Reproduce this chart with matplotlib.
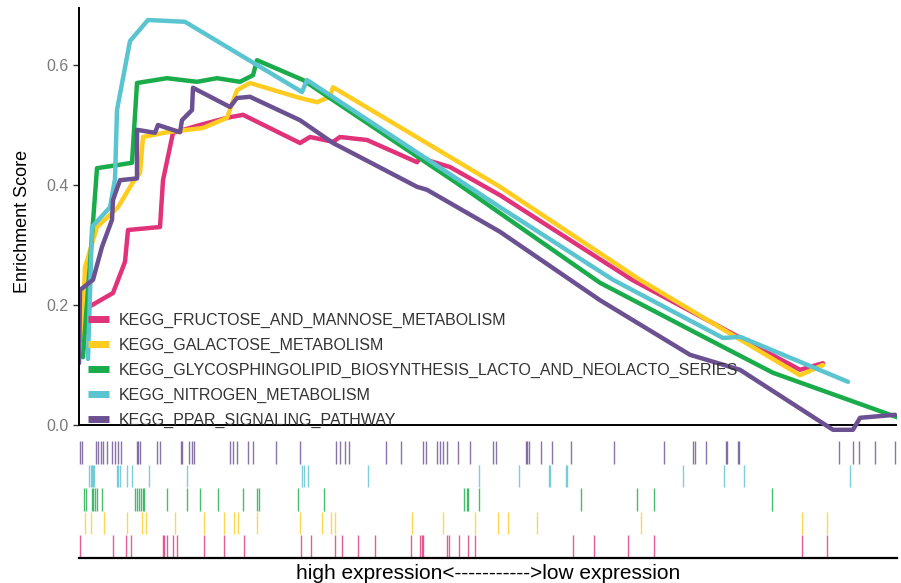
import matplotlib
matplotlib.use("Agg")
import matplotlib.pyplot as plt
import numpy as np

plt.rcParams['font.family'] = ['Liberation Sans', 'DejaVu Sans']

# ---- data (x = position in ranked gene list, 0..818 scale) ----
names = ["KEGG_FRUCTOSE_AND_MANNOSE_METABOLISM",
         "KEGG_GALACTOSE_METABOLISM",
         "KEGG_GLYCOSPHINGOLIPID_BIOSYNTHESIS_LACTO_AND_NEOLACTO_SERIES",
         "KEGG_NITROGEN_METABOLISM",
         "KEGG_PPAR_SIGNALING_PATHWAY"]
colors = ["#E0337A", "#FFCC1F", "#1AAB4B", "#5BC4D1", "#6B5192"]

fructose_x = [8, 34, 46, 49, 81, 84, 94, 121, 148, 164, 221, 231, 254, 261, 288, 338, 341, 371, 421, 553, 721, 744]
fructose_y = [0.195, 0.22, 0.272, 0.325, 0.33, 0.408, 0.487, 0.5, 0.512, 0.517, 0.47, 0.48, 0.472, 0.48, 0.475, 0.438, 0.445, 0.43, 0.383, 0.242, 0.092, 0.103]

galactose_x = [3, 6, 18, 39, 54, 61, 64, 88, 124, 148, 158, 171, 221, 238, 251, 254, 421, 561, 721, 744]
galactose_y = [0.14, 0.263, 0.33, 0.363, 0.405, 0.42, 0.48, 0.488, 0.495, 0.512, 0.558, 0.57, 0.545, 0.538, 0.547, 0.563, 0.397, 0.242, 0.083, 0.1]

glyco_x = [4, 18, 53, 58, 88, 118, 138, 161, 174, 178, 224, 378, 521, 621, 694, 818]
glyco_y = [0.113, 0.428, 0.437, 0.57, 0.578, 0.572, 0.578, 0.572, 0.583, 0.608, 0.575, 0.403, 0.237, 0.15, 0.087, 0.013]

nitrogen_x = [9, 13, 31, 36, 38, 51, 69, 106, 223, 228, 421, 534, 644, 661, 769]
nitrogen_y = [0.11, 0.33, 0.363, 0.41, 0.525, 0.64, 0.675, 0.672, 0.555, 0.575, 0.363, 0.242, 0.145, 0.147, 0.072]

ppar_x = [0, 1, 14, 23, 33, 34, 41, 58, 58, 76, 79, 101, 103, 113, 114, 151, 158, 171, 221, 254, 338, 348, 421, 521, 611, 661, 754, 774, 781, 816]
ppar_y = [0.103, 0.225, 0.242, 0.297, 0.342, 0.375, 0.408, 0.411, 0.492, 0.487, 0.5, 0.488, 0.508, 0.525, 0.562, 0.53, 0.545, 0.547, 0.508, 0.47, 0.397, 0.392, 0.322, 0.208, 0.117, 0.092, -0.008, -0.008, 0.012, 0.017]

# gene-hit positions (same 0..818 scale)
fructose_hits = [1, 34.3, 47, 51.7, 83.7, 85.3, 87.7, 94.3, 98.3, 125, 145, 165, 221.7, 232, 256, 262.7, 278.7, 296,
                 331.7, 341, 342.7, 343.7, 367.7, 370, 380.3, 389.3, 396, 494.3, 515, 549.3, 575.3, 723.3, 748.3]
galactose_hits = [6, 11.7, 25, 47.7, 62.7, 67, 96.3, 125.3, 145, 155, 159.3, 177.7, 221, 242.7, 252, 256, 332.7,
                  364.3, 396, 419.3, 428.7, 458.3, 561.7, 723.3, 748.3]
glyco_hits = [5, 7, 13, 14.3, 16, 17.7, 22.7, 56, 57.7, 60.3, 62, 63.7, 65, 88, 107.7, 121, 139.3, 164.3, 177.7,
              180.3, 219.3, 245, 385.3, 387.7, 389.3, 400.3, 501.7, 557.7, 575.3, 692.7]
nitrogen_hits = [10.3, 11.7, 13, 14.3, 15.3, 37.7, 39.3, 41, 47.7, 52.7, 70, 108, 223.3, 225.3, 228.7, 289.3,
                 400.3, 440.3, 470, 471, 487, 487.7, 603.7, 645, 665, 771]
ppar_hits = [1, 3.3, 17, 19.3, 22, 24.3, 27.7, 33.3, 36, 39.3, 41.7, 58, 59.3, 60.7, 78.3, 81, 102, 103.3, 110.3,
             113, 115.3, 151, 154.3, 157.7, 169.3, 173.7, 196.7, 221, 257, 261, 266, 270.3, 306.7, 321.7, 343.7,
             347, 357.7, 361, 364.3, 368.3, 379.3, 391, 414.3, 416.7, 446.7, 448.3, 450, 462, 472.7, 492, 535.3,
             585, 613.7, 616, 627, 647, 648, 658.7, 660.3, 760.3, 773.7, 780.3, 796, 816]

curves = [(fructose_x, fructose_y), (galactose_x, galactose_y), (glyco_x, glyco_y),
          (nitrogen_x, nitrogen_y), (ppar_x, ppar_y)]
hits = [fructose_hits, galactose_hits, glyco_hits, nitrogen_hits, ppar_hits]

W, H = 901, 583
fig = plt.figure(figsize=(W / 100, H / 100), dpi=100)

def box(l, t, r, b):
    return [l / W, 1 - b / H, (r - l) / W, (b - t) / H]

ax = fig.add_axes(box(79, 8, 897, 434))
for (xs, ys), c, n in zip(curves, colors, names):
    ax.plot(xs, ys, color=c, lw=3.2, label=n, solid_joinstyle='round', solid_capstyle='round')
ax.set_xlim(0, 818)
ax.set_ylim(-0.015, 0.695)
ax.axhline(0, color='black', lw=1.4, zorder=0.5)
for s in ['top', 'right', 'bottom']:
    ax.spines[s].set_visible(False)
ax.spines['left'].set_bounds(0, 0.695)
ax.spines['left'].set_linewidth(1.4)
ax.set_xticks([])
ax.set_yticks([0.0, 0.2, 0.4, 0.6])
ax.set_yticklabels(["0.0", "0.2", "0.4", "0.6"])
ax.tick_params(axis='y', colors='#333333', labelcolor='#7a7a7a', labelsize=11.5, length=4, width=1)
ax.set_ylabel("Enrichment Score", fontsize=13, color='black', labelpad=11)
ax.set_facecolor('none')

leg = ax.legend(loc='lower left', bbox_to_anchor=(0.0, -0.006), frameon=False, fontsize=11.5,
                handlelength=1.35, handletextpad=0.6, labelspacing=0.62, borderaxespad=0.15)
for t in leg.get_texts():
    t.set_color('#333333')
for h in leg.legend_handles:
    h.set_linewidth(5)
    h.set_solid_capstyle('butt')

rax = fig.add_axes(box(79, 441, 897, 558))
for i, (hx, c) in enumerate(zip(hits, colors)):
    rax.vlines(hx, i + 0.02, i + 0.98, color=c, lw=1.0, alpha=0.8)
rax.set_xlim(0, 818)
rax.set_ylim(0, 5)
for s in ['top', 'right', 'left']:
    rax.spines[s].set_visible(False)
rax.spines['bottom'].set_linewidth(1.6)
rax.set_xticks([])
rax.set_yticks([])
rax.set_xlabel("high expression<----------->low expression", fontsize=15, labelpad=4.5)

fig.savefig("out.png", dpi=100)
